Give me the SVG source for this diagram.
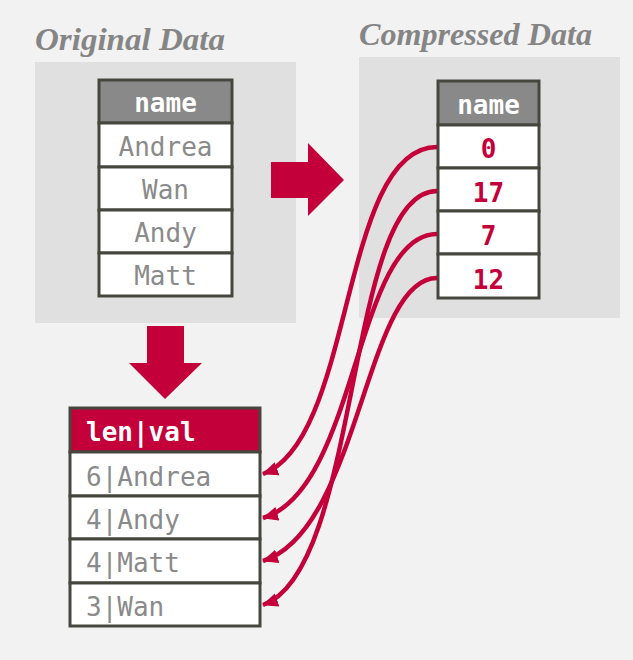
<svg xmlns="http://www.w3.org/2000/svg" width="633" height="660" viewBox="0 0 633 660">
<style>
.title{font-family:"Liberation Serif","Times New Roman",serif;font-weight:bold;font-style:italic;font-size:31px;fill:#858585}
.panel{fill:#e0e0e0}
.cell{fill:#ffffff;stroke:#46463f;stroke-width:3}
.hdr{fill:#898989;stroke:#46463f;stroke-width:3}
.hdrred{fill:#c4003a;stroke:#46463f;stroke-width:3}
.mono{font-family:"DejaVu Sans Mono","Liberation Mono",monospace;font-size:26px}
.htxt{fill:#ffffff;font-weight:bold}
.gtxt{fill:#8a8a8a}
.rtxt{fill:#c4003a;font-weight:bold}
.conn{fill:none;stroke:#c4003a;stroke-width:4.5}
.big{fill:#c4003a}
</style>
<defs>
<marker id="ah" viewBox="0 0 16 14" refX="15" refY="7" markerWidth="16" markerHeight="14" orient="auto" markerUnits="userSpaceOnUse">
<path d="M0,0 L16,7 L0,14 z" fill="#c4003a"/>
</marker>
</defs>
<rect x="0" y="0" width="633" height="660" fill="#f2f2f2"/>

<g id="original-panel">
<text class="title" x="35" y="50" textLength="190" lengthAdjust="spacingAndGlyphs">Original Data</text>
<rect class="panel" x="35" y="62" width="261" height="261"/>
</g>
<g id="compressed-panel">
<text class="title" x="359" y="45" textLength="233" lengthAdjust="spacingAndGlyphs">Compressed Data</text>
<rect class="panel" x="359" y="57" width="261" height="261"/>
</g>

<g id="original-table" class="mono">
<rect class="hdr" x="99" y="80" width="133" height="43"/>
<rect class="cell" x="99" y="123" width="133" height="44"/>
<rect class="cell" x="99" y="167" width="133" height="43"/>
<rect class="cell" x="99" y="210" width="133" height="43"/>
<rect class="cell" x="99" y="253" width="133" height="43"/>
<text class="htxt" x="165.5" y="112" text-anchor="middle">name</text>
<text class="gtxt" x="165.5" y="156" text-anchor="middle">Andrea</text>
<text class="gtxt" x="165.5" y="199" text-anchor="middle">Wan</text>
<text class="gtxt" x="165.5" y="242" text-anchor="middle">Andy</text>
<text class="gtxt" x="165.5" y="285" text-anchor="middle">Matt</text>
</g>

<g id="compressed-table" class="mono">
<rect class="hdr" x="438" y="81" width="101" height="44"/>
<rect class="cell" x="438" y="125" width="101" height="43"/>
<rect class="cell" x="438" y="168" width="101" height="43"/>
<rect class="cell" x="438" y="211" width="101" height="43"/>
<rect class="cell" x="438" y="254" width="101" height="44"/>
<text class="htxt" x="488.5" y="114" text-anchor="middle">name</text>
<text class="rtxt" x="488.5" y="158" text-anchor="middle">0</text>
<text class="rtxt" x="488.5" y="202" text-anchor="middle">17</text>
<text class="rtxt" x="488.5" y="245" text-anchor="middle">7</text>
<text class="rtxt" x="488.5" y="289" text-anchor="middle">12</text>
</g>

<g id="dictionary-table" class="mono">
<rect class="hdrred" x="70" y="408" width="190" height="44"/>
<rect class="cell" x="70" y="452" width="190" height="44"/>
<rect class="cell" x="70" y="496" width="190" height="43"/>
<rect class="cell" x="70" y="539" width="190" height="44"/>
<rect class="cell" x="70" y="583" width="190" height="43"/>
<text class="htxt" x="86" y="441">len|val</text>
<text class="gtxt" x="86" y="486">6|Andrea</text>
<text class="gtxt" x="86" y="529">4|Andy</text>
<text class="gtxt" x="86" y="572">4|Matt</text>
<text class="gtxt" x="86" y="616">3|Wan</text>
</g>

<g id="arrow-right">
<polygon class="big" points="271,162 308,162 308,143 344,180 308,216 308,198 271,198"/>
</g>
<g id="arrow-down">
<polygon class="big" points="147,326 184,326 184,363 202,363 165,399 129,363 147,363"/>
</g>

<g id="connectors">
<path class="conn" marker-end="url(#ah)" d="M437,147 C340,147 355,440 263,474"/>
<path class="conn" marker-end="url(#ah)" d="M437,191 C345,191 362,570 263,605"/>
<path class="conn" marker-end="url(#ah)" d="M437,234 C355,234 358,490 263,518"/>
<path class="conn" marker-end="url(#ah)" d="M437,278 C365,278 360,530 263,561"/>
</g>
</svg>
